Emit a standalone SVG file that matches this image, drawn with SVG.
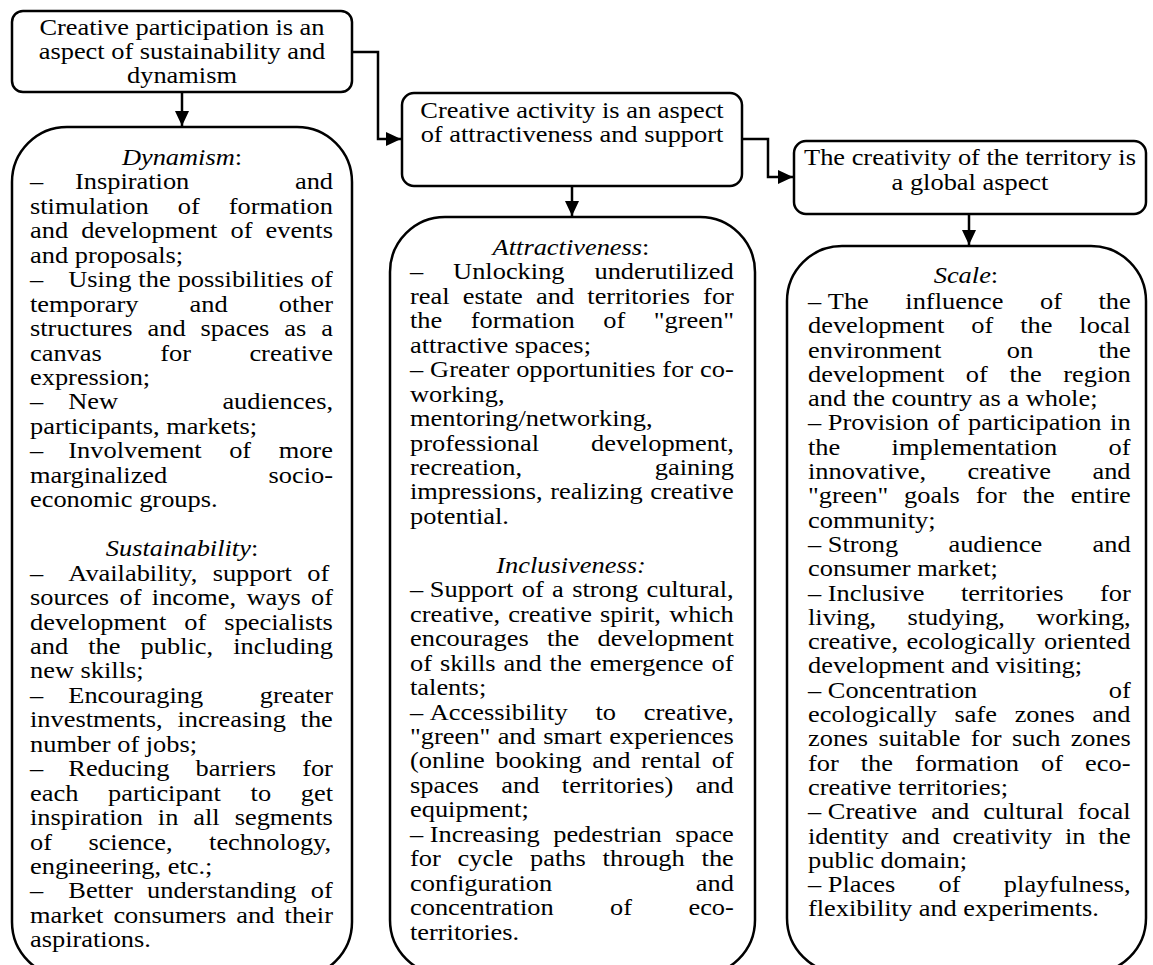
<svg xmlns="http://www.w3.org/2000/svg" width="1153" height="965" viewBox="0 0 1153 965">
<style>
text{font-family:"Liberation Serif","Times New Roman",serif;font-size:24px;fill:#000}
.it{font-style:italic}
.box{fill:#fff;stroke:#000;stroke-width:2.5}
.c{fill:none;stroke:#000;stroke-width:2.5;stroke-linejoin:miter}
.e{text-anchor:end}
.m{text-anchor:middle}
</style>
<defs>
<marker id="ah" markerUnits="userSpaceOnUse" markerWidth="16" markerHeight="14" refX="15" refY="7" orient="auto">
<path d="M0,0 L15,7 L0,14 z" fill="#000"/>
</marker>
</defs>
<rect width="1153" height="965" fill="#fff"/>

<g id="connectors">
<path class="c" d="M182,92 V126" marker-end="url(#ah)"/>
<path class="c" d="M352,52 H378 V139 H401" marker-end="url(#ah)"/>
<path class="c" d="M572,186 V216" marker-end="url(#ah)"/>
<path class="c" d="M742,139 H768 V177 H793" marker-end="url(#ah)"/>
<path class="c" d="M969,214 V245" marker-end="url(#ah)"/>
</g>

<g id="node-participation">
<rect class="box" x="12" y="11" width="340" height="81" rx="11"/>
<g transform="translate(182,0) scale(1.1,1)">
<text class="m" x="0" y="35.5">Creative participation is an</text>
<text class="m" x="0" y="59.5">aspect of sustainability and</text>
<text class="m" x="0" y="83.5">dynamism</text>
</g>
</g>

<g id="node-activity">
<rect class="box" x="402" y="93" width="340" height="93" rx="12"/>
<g transform="translate(572,0) scale(1.1,1)">
<text class="m" x="0" y="118.5">Creative activity is an aspect</text>
<text class="m" x="0" y="142.5">of attractiveness and support</text>
</g>
</g>

<g id="node-territory">
<rect class="box" x="794" y="141" width="352" height="73" rx="12"/>
<g transform="translate(970,0) scale(1.1,1)">
<text class="m" x="0" y="165.5">The creativity of the territory is</text>
<text class="m" x="0" y="190">a global aspect</text>
</g>
</g>

<g id="node-dynamism">
<rect class="box" x="12" y="127" width="340" height="850" rx="55"/>
<g transform="translate(30,0) scale(1.1,1)">
<text class="m" x="138.2" y="165"><tspan class="it">Dynamism</tspan>:</text>
<text x="0" y="189.45">–</text><text x="40.9" y="189.45">Inspiration</text><text class="e" x="275.5" y="189.45">and</text>
<text x="0" y="213.9" word-spacing="20.4">stimulation of formation</text>
<text x="0" y="238.35" word-spacing="5.85">and development of events</text>
<text x="0" y="262.8">and proposals;</text>
<text x="0" y="287.25">–</text><text x="34.8" y="287.25" word-spacing="0.4">Using the possibilities of</text>
<text x="0" y="311.7" word-spacing="40.45">temporary and other</text>
<text x="0" y="336.15" word-spacing="7.55">structures and spaces as a</text>
<text x="0" y="360.6" word-spacing="47.1">canvas for creative</text>
<text x="0" y="385.05">expression;</text>
<text x="0" y="409.5">–</text><text x="34.8" y="409.5">New</text><text class="e" x="275.5" y="409.5">audiences,</text>
<text x="0" y="433.95">participants, markets;</text>
<text x="0" y="458.4">–</text><text x="34.8" y="458.4" word-spacing="19">Involvement of more</text>
<text x="0" y="482.85">marginalized</text><text class="e" x="275.5" y="482.85">socio-</text>
<text x="0" y="507.3">economic groups.</text>
<text class="m" x="138.2" y="556.2"><tspan class="it">Sustainability</tspan>:</text>
<text x="0" y="580.65">–</text><text x="34.8" y="580.65" word-spacing="8">Availability, support of</text>
<text x="0" y="605.1" word-spacing="3.4">sources of income, ways of</text>
<text x="0" y="629.55" word-spacing="10.4">development of specialists</text>
<text x="0" y="654" word-spacing="12.3">and the public, including</text>
<text x="0" y="678.45">new skills;</text>
<text x="0" y="702.9">–</text><text x="34.8" y="702.9">Encouraging</text><text class="e" x="275.5" y="702.9">greater</text>
<text x="0" y="727.35" word-spacing="7.4">investments, increasing the</text>
<text x="0" y="751.8">number of jobs;</text>
<text x="0" y="776.25">–</text><text x="34.8" y="776.25" word-spacing="17.7">Reducing barriers for</text>
<text x="0" y="800.7" word-spacing="21">each participant to get</text>
<text x="0" y="825.15" word-spacing="7.6">inspiration in all segments</text>
<text x="0" y="849.6" word-spacing="27.1">of science, technology,</text>
<text x="0" y="874.05">engineering, etc.;</text>
<text x="0" y="898.5">–</text><text x="34.8" y="898.5" word-spacing="7">Better understanding of</text>
<text x="0" y="922.95" word-spacing="3.2">market consumers and their</text>
<text x="0" y="947.4">aspirations.</text>
</g>
</g>

<g id="node-attractiveness">
<rect class="box" x="390" y="217" width="365" height="758" rx="55"/>
<g transform="translate(410,0) scale(1.1,1)">
<text class="m" x="146.4" y="255"><tspan class="it">Attractiveness</tspan>:</text>
<text x="0" y="279.45" word-spacing="21.2">– Unlocking underutilized</text>
<text x="0" y="303.9" word-spacing="6">real estate and territories for</text>
<text x="0" y="328.35" word-spacing="19.9">the formation of "green"</text>
<text x="0" y="352.8">attractive spaces;</text>
<text x="0" y="377.25" word-spacing="0.3">– Greater opportunities for co-</text>
<text x="0" y="401.7">working,</text>
<text x="0" y="426.15">mentoring/networking,</text>
<text x="0" y="450.6">professional</text><text class="e" x="294.5" y="450.6">development,</text>
<text x="0" y="475.05">recreation,</text><text class="e" x="294.5" y="475.05">gaining</text>
<text x="0" y="499.5" word-spacing="0.95">impressions, realizing creative</text>
<text x="0" y="523.95">potential.</text>
<text class="m it" x="146.4" y="572.85">Inclusiveness:</text>
<text x="0" y="597.3">–</text><text x="18" y="597.3" word-spacing="1.6">Support of a strong cultural,</text>
<text x="0" y="621.75" word-spacing="1.5">creative, creative spirit, which</text>
<text x="0" y="646.2" word-spacing="10.6">encourages the development</text>
<text x="0" y="670.65" word-spacing="1.2">of skills and the emergence of</text>
<text x="0" y="695.1">talents;</text>
<text x="0" y="719.55">–</text><text x="18" y="719.55" word-spacing="19.3">Accessibility to creative,</text>
<text x="0" y="744" word-spacing="0.8">"green" and smart experiences</text>
<text x="0" y="768.45" word-spacing="3.6">(online booking and rental of</text>
<text x="0" y="792.9" word-spacing="14.4">spaces and territories) and</text>
<text x="0" y="817.35">equipment;</text>
<text x="0" y="841.8">–</text><text x="18" y="841.8" word-spacing="6.3">Increasing pedestrian space</text>
<text x="0" y="866.25" word-spacing="9.3">for cycle paths through the</text>
<text x="0" y="890.7">configuration</text><text class="e" x="294.5" y="890.7">and</text>
<text x="0" y="915.15" word-spacing="45.3">concentration of eco-</text>
<text x="0" y="939.6">territories.</text>
</g>
</g>

<g id="node-scale">
<rect class="box" x="787" y="246" width="359" height="727" rx="55"/>
<g transform="translate(808,0) scale(1.1,1)">
<text class="m" x="143.6" y="283"><tspan class="it">Scale</tspan>:</text>
<text x="0" y="309">–</text><text x="18" y="309" word-spacing="27.2">The influence of the</text>
<text x="0" y="333.3" word-spacing="18.5">development of the local</text>
<text x="0" y="357.6" word-spacing="53.4">environment on the</text>
<text x="0" y="381.9" word-spacing="13.6">development of the region</text>
<text x="0" y="406.2">and the country as a whole;</text>
<text x="0" y="430.5">–</text><text x="18" y="430.5" word-spacing="1.8">Provision of participation in</text>
<text x="0" y="454.8" word-spacing="40.7">the implementation of</text>
<text x="0" y="479.1" word-spacing="31.7">innovative, creative and</text>
<text x="0" y="503.4" word-spacing="8.5">"green" goals for the entire</text>
<text x="0" y="527.7">community;</text>
<text x="0" y="552">–</text><text x="18" y="552" word-spacing="39.7">Strong audience and</text>
<text x="0" y="576.3">consumer market;</text>
<text x="0" y="600.6">–</text><text x="18" y="600.6" word-spacing="27.1">Inclusive territories for</text>
<text x="0" y="624.9" word-spacing="22.4">living, studying, working,</text>
<text x="0" y="649.2" word-spacing="1.7">creative, ecologically oriented</text>
<text x="0" y="673.5">development and visiting;</text>
<text x="0" y="697.8">–</text><text x="18" y="697.8">Concentration</text><text class="e" x="293.4" y="697.8">of</text>
<text x="0" y="722.1" word-spacing="10">ecologically safe zones and</text>
<text x="0" y="746.4" word-spacing="3.4">zones suitable for such zones</text>
<text x="0" y="770.7" word-spacing="14">for the formation of eco-</text>
<text x="0" y="795">creative territories;</text>
<text x="0" y="819.3">–</text><text x="18" y="819.3" word-spacing="6.7">Creative and cultural focal</text>
<text x="0" y="843.6" word-spacing="5.7">identity and creativity in the</text>
<text x="0" y="867.9">public domain;</text>
<text x="0" y="892.2">–</text><text x="18" y="892.2" word-spacing="33.4">Places of playfulness,</text>
<text x="0" y="916.5">flexibility and experiments.</text>
</g>
</g>
</svg>
